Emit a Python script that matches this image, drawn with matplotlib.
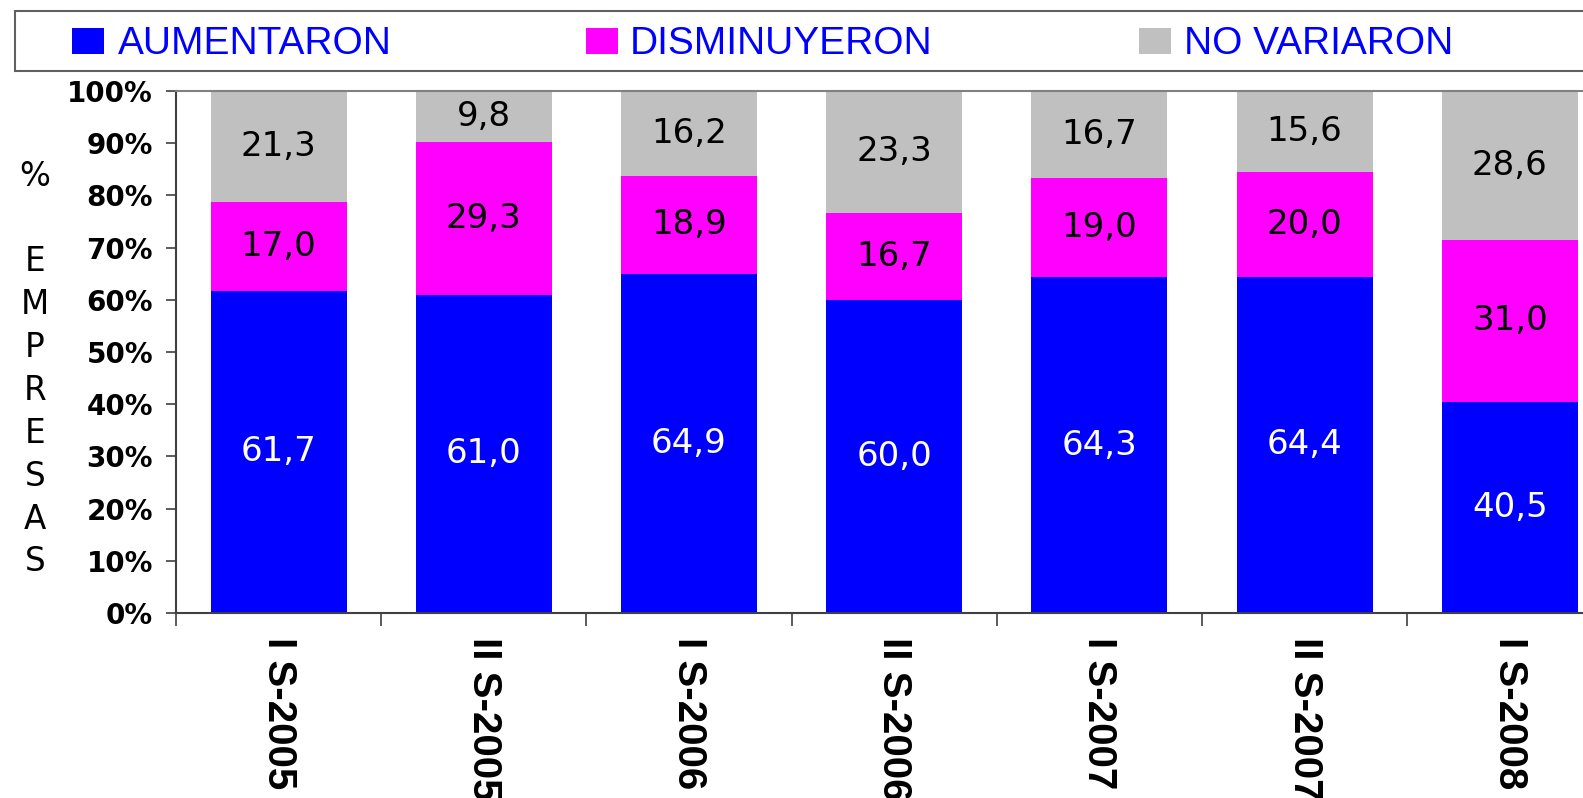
import matplotlib
matplotlib.use("Agg")
import matplotlib.pyplot as plt
from matplotlib.patches import Rectangle
from matplotlib.ticker import FixedLocator, PercentFormatter
import numpy as np

categories = ["I S-2005", "II S-2005", "I S-2006", "II S-2006", "I S-2007", "II S-2007", "I S-2008"]
aumentaron = [61.7, 61.0, 64.9, 60.0, 64.3, 64.4, 40.5]
disminuyeron = [17.0, 29.3, 18.9, 16.7, 19.0, 20.0, 31.0]
no_variaron = [21.3, 9.8, 16.2, 23.3, 16.7, 15.6, 28.6]
series_names = ["AUMENTARON", "DISMINUYERON", "NO VARIARON"]
colors = ["#0000FF", "#FF00FF", "#C0C0C0"]
label_colors = ["white", "black", "black"]

W, H = 1583, 798
fig = plt.figure(figsize=(W / 100, H / 100), dpi=100)

ax_left, ax_top, ax_bottom = 176, 91, 613
cat_w = 205.2
ax = fig.add_axes([ax_left / W, 1 - ax_bottom / H, 7 * cat_w / W, (ax_bottom - ax_top) / H])

vals = np.array([aumentaron, disminuyeron, no_variaron])
pct = vals / vals.sum(axis=0) * 100
x = np.arange(len(categories))
bottom = np.zeros(len(categories))
for i in range(3):
    ax.bar(x, pct[i], bottom=bottom, width=0.663, color=colors[i], edgecolor="none", zorder=2)
    for j in range(len(categories)):
        ax.text(x[j], bottom[j] + pct[i][j] / 2, f"{vals[i][j]:.1f}".replace(".", ","),
                ha="center", va="center", fontsize=24.5, color=label_colors[i],
                family="DejaVu Sans", zorder=3)
    bottom += pct[i]

ax.set_xlim(-0.5, 6.5)
ax.set_ylim(0, 100)
ax.set_yticks(np.arange(0, 101, 10))
ax.yaxis.set_major_formatter(PercentFormatter(decimals=0))
for lab in ax.get_yticklabels():
    lab.set_fontfamily("DejaVu Sans")
    lab.set_fontweight("bold")
    lab.set_fontsize(20)
ax.tick_params(axis="y", direction="out", length=7.5, width=1.2, color="#404040", pad=9)

ax.set_xticks(x)
ax.set_xticklabels(categories, rotation=270, ha="center", va="top",
                   fontfamily="Liberation Sans", fontweight="bold", fontsize=29)
ax.tick_params(axis="x", which="major", length=0, pad=17)
ax.xaxis.set_minor_locator(FixedLocator(np.arange(-0.5, 6.0, 1.0)))
ax.tick_params(axis="x", which="minor", direction="out", length=9.5, width=1.2, color="#404040")

for s in ["left", "bottom"]:
    ax.spines[s].set_color("#404040")
    ax.spines[s].set_linewidth(1.5)
ax.spines["top"].set_color("#808080")
ax.spines["top"].set_linewidth(1.5)
ax.spines["right"].set_visible(False)

# y axis label: stacked letters
fig.text(35 / W, 1 - 369 / H, "%\n\nE\nM\nP\nR\nE\nS\nA\nS", ha="center", va="center",
         fontsize=23.5, family="DejaVu Sans", linespacing=1.38, multialignment="center")

# legend box
fig.patches.append(Rectangle((15 / W, 1 - 71 / H), (1600 - 15) / W, 60 / H,
                             transform=fig.transFigure, facecolor="white",
                             edgecolor="#606060", linewidth=1.5, zorder=1))
marker_x = [72, 586, 1139]
text_x = [118, 630, 1184]
for i in range(3):
    fig.patches.append(Rectangle((marker_x[i] / W, 1 - 54 / H), 32 / W, 26 / H,
                                 transform=fig.transFigure, facecolor=colors[i],
                                 edgecolor="none", zorder=2))
    fig.text(text_x[i] / W, 1 - 54 / H, series_names[i], ha="left", va="baseline",
             fontsize=28, color="#0000FF", family="Liberation Sans", zorder=3)

fig.savefig("out.png", dpi=100)
